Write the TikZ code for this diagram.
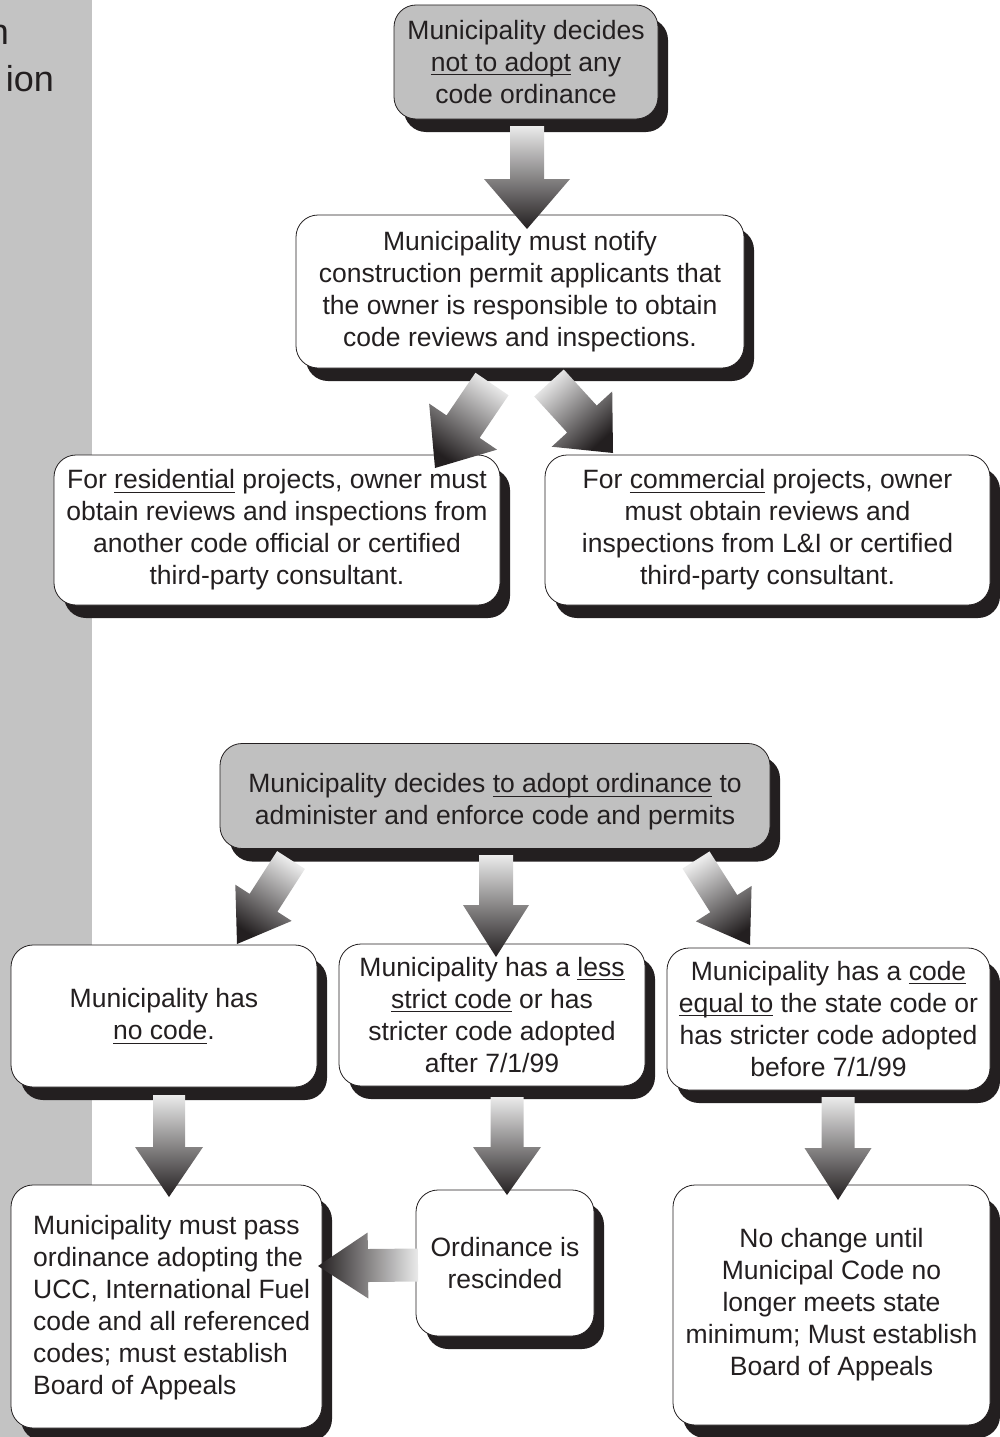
\documentclass[tikz,border=0pt]{standalone}
\usepackage{fontspec}
\setmainfont{Liberation Sans}
\usetikzlibrary{calc,shadows}
\definecolor{ink}{RGB}{35,31,32}
\definecolor{band}{RGB}{195,195,195}
\definecolor{boxgray}{RGB}{192,192,192}
\newcommand{\uln}[1]{\setbox0\hbox{#1}\rlap{\rule[-4pt]{\wd0}{1.1pt}}\box0\relax}
% #1 tail, #2 tip, #3 shaft half width, #4 head half width, #5 head length, #6 shading angle
\newcommand{\fatarrow}[6]{%
  \coordinate (fa-h) at ($(#2)!#5!(#1)$);
  \shade[fat, shading angle=#6]
    ($(#1)!#3!90:(#2)$) -- ($(fa-h)!#3!90:(#2)$) -- ($(fa-h)!#4!90:(#2)$) -- (#2)
    -- ($(fa-h)!#4!-90:(#2)$) -- ($(fa-h)!#3!-90:(#2)$) -- ($(#1)!#3!-90:(#2)$) -- cycle;
}
\begin{document}
\begin{tikzpicture}[x=1pt,y=-1pt,
  txt/.style={font=\fontsize{26.5}{32}\selectfont, text=ink, align=center, inner sep=0pt},
  box/.style={txt, draw=ink, line width=0.8pt, rounded corners=22pt, fill=white, inner sep=2pt,
    drop shadow={shadow xshift=10pt, shadow yshift=-13pt, opacity=1, fill=ink}},
  graybox/.style={box, fill=boxgray},
  fat/.style={top color=white!92!black, bottom color=ink, draw=none},
  sidetxt/.style={font=\fontsize{36}{44}\selectfont, text=ink, inner sep=0pt}]
\useasboundingbox (0,0) rectangle (999,1437);
\fill[band] (0,0) rectangle (92,1437);
\node[sidetxt, anchor=base east] (s1) at (9,45) {n};
\node[sidetxt, anchor=base east] (s2) at (54,92) {ion};

% upper flow
\node[graybox, minimum width=264pt, minimum height=114pt] (b1) at (526,62)
  {Municipality decides\\ \uln{not to adopt} any\\ code ordinance};
\node[box, minimum width=448pt, minimum height=153pt] (b2) at (520,291.5)
  {Municipality must notify\\ construction permit applicants that\\ the owner is responsible to obtain\\ code reviews and inspections.};
\node[box, minimum width=446pt, minimum height=150pt] (b3) at (277,530)
  {For \uln{residential} projects, owner must\\ obtain reviews and inspections from\\ another code official or certified\\ third-party consultant.};
\node[box, minimum width=445pt, minimum height=150pt] (b4) at (767.5,530)
  {For \uln{commercial} projects, owner\\ must obtain reviews and\\ inspections from L\&I or certified\\ third-party consultant.};

% lower flow
\node[graybox, minimum width=550pt, minimum height=105pt] (b5) at (495,796) {};
\node[txt] (t5) at (495,802)
  {Municipality decides \uln{to adopt ordinance} to\\ administer and enforce code and permits};
\node[box, minimum width=306pt, minimum height=142pt] (b6) at (164,1016)
  {Municipality has\\ \uln{no code}.};
\node[box, minimum width=306pt, minimum height=142pt] (b7) at (492,1015)
  {Municipality has a \uln{less}\\ \uln{strict code} or has\\ stricter code adopted\\ after 7/1/99};
\node[box, minimum width=323pt, minimum height=142pt] (b8) at (828.5,1019)
  {Municipality has a \uln{code}\\ \uln{equal to} the state code or\\ has stricter code adopted\\ before 7/1/99};
\node[box, minimum width=311pt, minimum height=243pt] (b9) at (166.5,1306.5) {};
\node[txt, align=left, anchor=west] (t9) at (33,1308)
  {Municipality must pass\\ ordinance adopting the\\ UCC, International Fuel\\ code and all referenced\\ codes; must establish\\ Board of Appeals};
\node[box, minimum width=178pt, minimum height=146pt] (b10) at (505,1263)
  {Ordinance is\\ rescinded};
\node[box, minimum width=317pt, minimum height=240pt] (b11) at (831.5,1305)
  {No change until\\ Municipal Code no\\ longer meets state\\ minimum; Must establish\\ Board of Appeals};

% arrow end points
\coordinate (a1s) at (527,126);  \coordinate (a1e) at (527,229);
\coordinate (a2s) at (492,384);  \coordinate (a2e) at (435,468);
\coordinate (a3s) at (549,383);  \coordinate (a3e) at (613,453);
\coordinate (a4s) at (291,860);  \coordinate (a4e) at (237,944);
\coordinate (a5s) at (496,855);  \coordinate (a5e) at (496,957);
\coordinate (a6s) at (696,860);  \coordinate (a6e) at (750,945);
\coordinate (a7s) at (169,1095); \coordinate (a7e) at (169,1197);
\coordinate (a8s) at (507,1097); \coordinate (a8e) at (507,1195);
\coordinate (a9s) at (838,1097); \coordinate (a9e) at (838,1200);
\coordinate (a10s) at (418,1265); \coordinate (a10e) at (318,1266);

\fatarrow{a1s}{a1e}{17pt}{43pt}{50pt}{0}
\fatarrow{a2s}{a2e}{20pt}{41pt}{50pt}{-34.2}
\fatarrow{a3s}{a3e}{20pt}{41pt}{46pt}{42.4}
\fatarrow{a4s}{a4e}{16.5pt}{33.5pt}{49pt}{-32.7}
\fatarrow{a5s}{a5e}{17pt}{33pt}{52pt}{0}
\fatarrow{a6s}{a6e}{16pt}{33pt}{49pt}{32.4}
\fatarrow{a7s}{a7e}{16pt}{34pt}{50pt}{0}
\fatarrow{a8s}{a8e}{16.5pt}{34pt}{48pt}{0}
\fatarrow{a9s}{a9e}{16.5pt}{33.5pt}{52pt}{0}
\fatarrow{a10s}{a10e}{16.5pt}{33pt}{50pt}{270}
\end{tikzpicture}
\end{document}
